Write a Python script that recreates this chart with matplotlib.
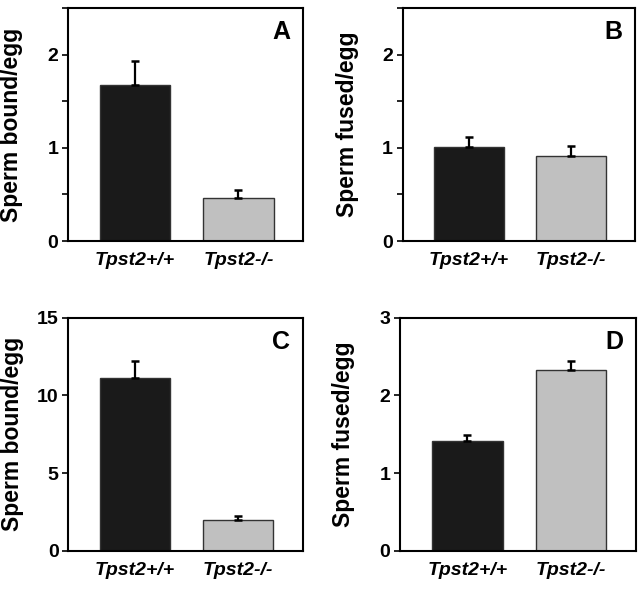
import numpy as np
import matplotlib
matplotlib.use("Agg")
import matplotlib.pyplot as plt
from matplotlib.ticker import MultipleLocator

plt.rcParams['font.family'] = ['Liberation Sans', 'DejaVu Sans']

# data
groups = ["Tpst2+/+", "Tpst2-/-"]
bound_a = [1.68, 0.46]
bound_a_err = [0.25, 0.09]
fused_b = [1.01, 0.91]
fused_b_err = [0.11, 0.11]
bound_c = [11.1, 1.99]
bound_c_err = [1.14, 0.26]
fused_d = [1.42, 2.33]
fused_d_err = [0.07, 0.11]

bar_colors = ['#1a1a1a', '#c0c0c0']

fig = plt.figure(figsize=(6.44, 5.91), dpi=100)

# (left, bottom, width, height), values, errors, ylabel, ylim, major, minor, letter
panels = [
    ([0.1056, 0.5922, 0.365, 0.394], bound_a, bound_a_err, "Sperm bound/egg", 2.5, 1, 0.5, "A"),
    ([0.6253, 0.5922, 0.3607, 0.394], fused_b, fused_b_err, "Sperm fused/egg", 2.5, 1, 0.5, "B"),
    ([0.1060, 0.0677, 0.364, 0.3947], bound_c, bound_c_err, "Sperm bound/egg", 15, 5, None, "C"),
    ([0.6210, 0.0677, 0.3665, 0.3947], fused_d, fused_d_err, "Sperm fused/egg", 3, 1, None, "D"),
]

x = np.arange(len(groups))

for rect, vals, errs, ylab, ytop, major, minor, letter in panels:
    ax = fig.add_axes(rect)
    ax.bar(x, vals, width=0.68, color=bar_colors, edgecolor='#333333', linewidth=1.0, zorder=2)
    ax.errorbar(x, vals, yerr=[np.zeros(len(vals)), errs], fmt='none', ecolor='black',
                elinewidth=1.6, capsize=3, capthick=1.8, zorder=3)
    ax.set_xlim(-0.648, 1.625)
    ax.set_ylim(0, ytop)
    ax.yaxis.set_major_locator(MultipleLocator(major))
    if minor:
        ax.yaxis.set_minor_locator(MultipleLocator(minor))
    ax.set_xticks(x)
    ax.set_xticklabels(groups, fontsize=14, fontweight='heavy', fontstyle='italic')
    ax.tick_params(axis='x', length=0, pad=8)
    ax.tick_params(axis='y', which='major', direction='out', length=4, width=1.2,
                   labelsize=14, pad=3)
    ax.tick_params(axis='y', which='minor', direction='out', length=4, width=1.2)
    for lab in ax.get_yticklabels():
        lab.set_fontweight('bold')
    for sp in ax.spines.values():
        sp.set_linewidth(1.5)
    ax.set_ylabel(ylab, fontsize=16.5, fontweight='bold')
    ax.yaxis.set_label_coords(-0.19, 0.5)
    ax.text(0.945, 0.897, letter, transform=ax.transAxes, ha='right', va='center',
            fontsize=18, fontweight='bold')

plt.savefig("out.png", dpi=100)
